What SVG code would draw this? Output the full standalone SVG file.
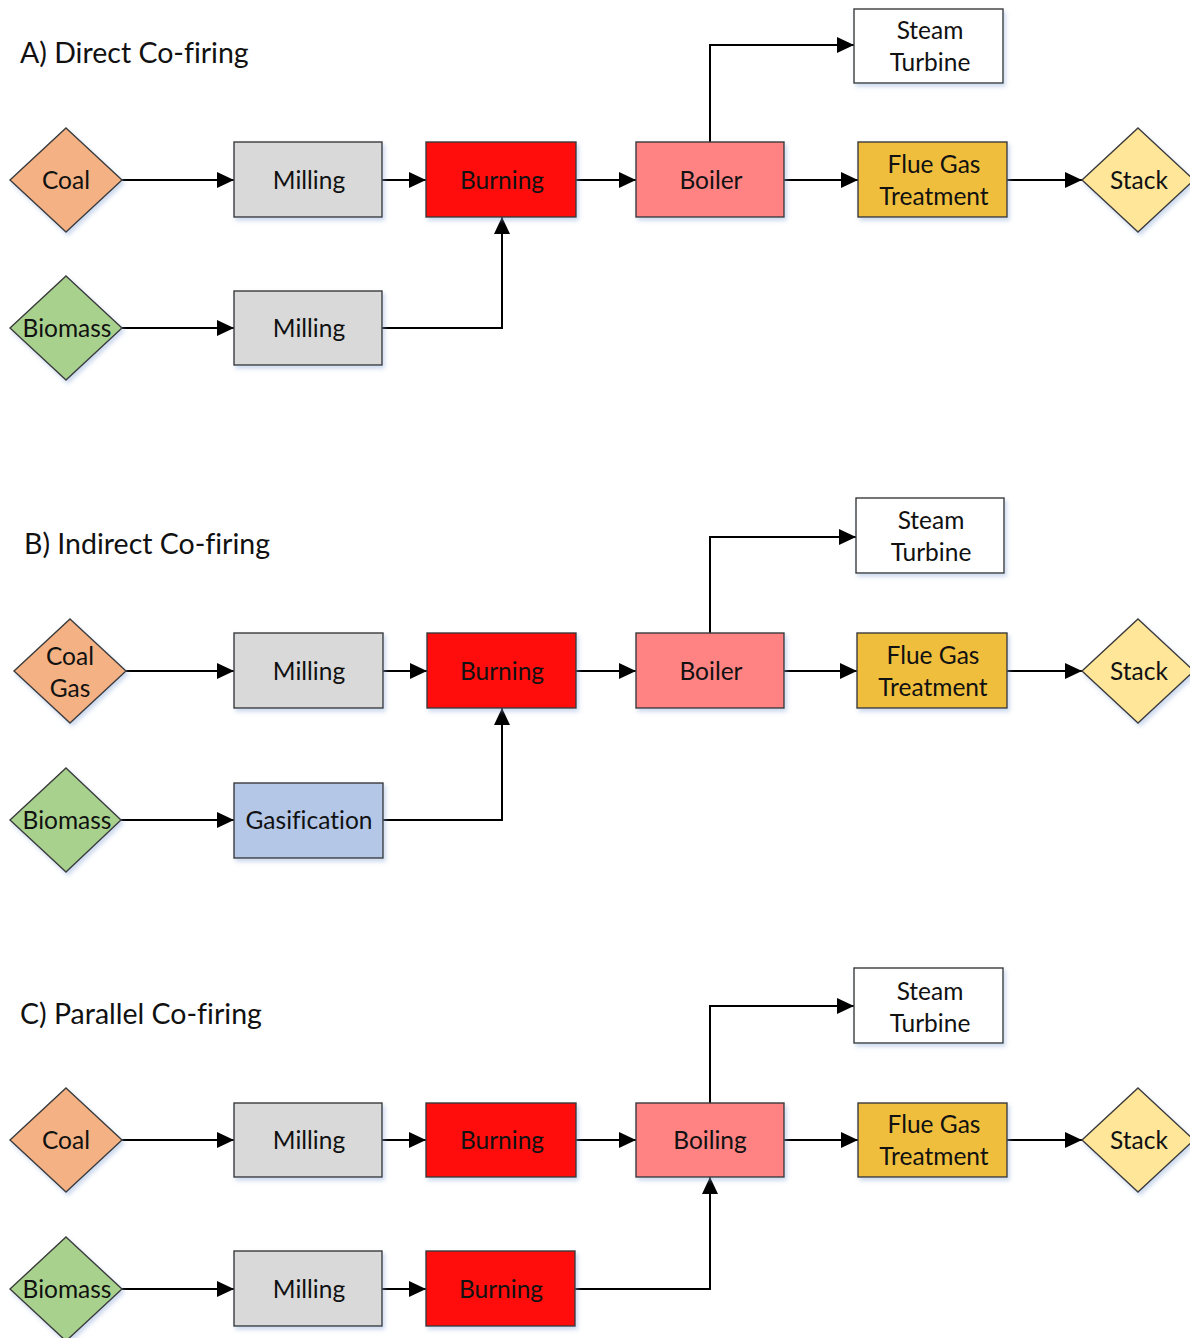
<svg xmlns="http://www.w3.org/2000/svg" width="1190" height="1338" viewBox="0 0 1190 1338">
<defs>
<style>
.box{stroke:#3a3a3a;stroke-width:1.4;filter:url(#sh)}
.t{font-family:Lato,"Liberation Sans",sans-serif;font-size:24.5px;fill:#111;text-anchor:middle;font-variant-ligatures:none}
.title{font-family:Lato,"Liberation Sans",sans-serif;font-size:28.5px;fill:#111;font-variant-ligatures:none}
.c{fill:none;stroke:#000;stroke-width:2;marker-end:url(#ah)}
.coal{fill:#F4B183}.bio{fill:#A9D18E}.mill{fill:#D9D9D9}.burn{fill:#FF0D0D}.boil{fill:#FF8383}
.fgt{fill:#F0BE3E}.stack{fill:#FFE699}.gas{fill:#B4C7E7}.st{fill:#FFFFFF}
</style>
<filter id="sh" x="-20%" y="-20%" width="140%" height="150%">
<feDropShadow dx="2" dy="3" stdDeviation="2" flood-color="#8EA9D8" flood-opacity="0.45"/>
</filter>
<marker id="ah" markerUnits="userSpaceOnUse" markerWidth="17" markerHeight="16" refX="17" refY="8" orient="auto">
<path d="M0,0 L17,8 L0,16 z" fill="#000"/>
</marker>
</defs>
<rect width="1190" height="1338" fill="#fff"/>

<text class="title" x="20" y="63">A) Direct Co-firing</text>
<text class="title" x="24" y="554">B) Indirect Co-firing</text>
<text class="title" x="20" y="1024">C) Parallel Co-firing</text>

<g id="connectors">
<!-- A -->
<path class="c" d="M122,180 H234"/>
<path class="c" d="M382,180 H426"/>
<path class="c" d="M576,180 H636"/>
<path class="c" d="M784,180 H858"/>
<path class="c" d="M1007,180 H1082"/>
<path class="c" d="M710,142 V45 H854"/>
<path class="c" d="M122,328 H234"/>
<path class="c" d="M382,328 H502 V217"/>
<!-- B -->
<path class="c" d="M126,671 H234"/>
<path class="c" d="M383,671 H427"/>
<path class="c" d="M576,671 H636"/>
<path class="c" d="M784,671 H857"/>
<path class="c" d="M1007,671 H1082"/>
<path class="c" d="M710,633 V537 H856"/>
<path class="c" d="M121,820 H234"/>
<path class="c" d="M383,820 H502 V708"/>
<!-- C -->
<path class="c" d="M122,1140 H234"/>
<path class="c" d="M382,1140 H426"/>
<path class="c" d="M576,1140 H636"/>
<path class="c" d="M784,1140 H858"/>
<path class="c" d="M1007,1140 H1082"/>
<path class="c" d="M710,1103 V1006 H854"/>
<path class="c" d="M122,1289 H234"/>
<path class="c" d="M382,1289 H426"/>
<path class="c" d="M575,1289 H710 V1177"/>
</g>

<!-- Section A -->
<g id="a-coal"><polygon class="box coal" points="66,128 122,180 66,232 10,180"/><text class="t" x="66" y="189">Coal</text></g>
<g id="a-milling1"><rect class="box mill" x="234" y="142" width="148" height="75"/><text class="t" x="309" y="189">Milling</text></g>
<g id="a-burning"><rect class="box burn" x="426" y="142" width="150" height="75"/><text class="t" x="502" y="189">Burning</text></g>
<g id="a-boiler"><rect class="box boil" x="636" y="142" width="148" height="75"/><text class="t" x="711" y="189">Boiler</text></g>
<g id="a-fgt"><rect class="box fgt" x="858" y="142" width="149" height="75"/><text class="t" x="934" y="173">Flue Gas</text><text class="t" x="934" y="205">Treatment</text></g>
<g id="a-stack"><polygon class="box stack" points="1138,128 1194,180 1138,232 1082,180"/><text class="t" x="1139" y="189">Stack</text></g>
<g id="a-steam"><rect class="box st" x="854" y="9" width="149" height="74"/><text class="t" x="930" y="39">Steam</text><text class="t" x="930" y="71">Turbine</text></g>
<g id="a-biomass"><polygon class="box bio" points="66,276 122,328 66,380 10,328"/><text class="t" x="67" y="337">Biomass</text></g>
<g id="a-milling2"><rect class="box mill" x="234" y="291" width="148" height="74"/><text class="t" x="309" y="337">Milling</text></g>

<!-- Section B -->
<g id="b-coalgas"><polygon class="box coal" points="70,619 126,671 70,723 14,671"/><text class="t" x="70" y="665">Coal</text><text class="t" x="70" y="697">Gas</text></g>
<g id="b-milling"><rect class="box mill" x="234" y="633" width="149" height="75"/><text class="t" x="309" y="680">Milling</text></g>
<g id="b-burning"><rect class="box burn" x="427" y="633" width="149" height="75"/><text class="t" x="502" y="680">Burning</text></g>
<g id="b-boiler"><rect class="box boil" x="636" y="633" width="148" height="75"/><text class="t" x="711" y="680">Boiler</text></g>
<g id="b-fgt"><rect class="box fgt" x="857" y="633" width="150" height="75"/><text class="t" x="933" y="664">Flue Gas</text><text class="t" x="933" y="696">Treatment</text></g>
<g id="b-stack"><polygon class="box stack" points="1138,619 1194,671 1138,723 1082,671"/><text class="t" x="1139" y="680">Stack</text></g>
<g id="b-steam"><rect class="box st" x="856" y="498" width="148" height="75"/><text class="t" x="931" y="529">Steam</text><text class="t" x="931" y="561">Turbine</text></g>
<g id="b-biomass"><polygon class="box bio" points="66,768 121,820 66,872 10,820"/><text class="t" x="67" y="829">Biomass</text></g>
<g id="b-gasification"><rect class="box gas" x="234" y="783" width="149" height="75"/><text class="t" x="309" y="829">Gasification</text></g>

<!-- Section C -->
<g id="c-coal"><polygon class="box coal" points="66,1088 122,1140 66,1192 10,1140"/><text class="t" x="66" y="1149">Coal</text></g>
<g id="c-milling1"><rect class="box mill" x="234" y="1103" width="148" height="74"/><text class="t" x="309" y="1149">Milling</text></g>
<g id="c-burning1"><rect class="box burn" x="426" y="1103" width="150" height="74"/><text class="t" x="502" y="1149">Burning</text></g>
<g id="c-boiling"><rect class="box boil" x="636" y="1103" width="148" height="74"/><text class="t" x="710" y="1149">Boiling</text></g>
<g id="c-fgt"><rect class="box fgt" x="858" y="1103" width="149" height="74"/><text class="t" x="934" y="1133">Flue Gas</text><text class="t" x="934" y="1165">Treatment</text></g>
<g id="c-stack"><polygon class="box stack" points="1138,1088 1194,1140 1138,1192 1082,1140"/><text class="t" x="1139" y="1149">Stack</text></g>
<g id="c-steam"><rect class="box st" x="854" y="968" width="149" height="75"/><text class="t" x="930" y="1000">Steam</text><text class="t" x="930" y="1032">Turbine</text></g>
<g id="c-biomass"><polygon class="box bio" points="66,1237 122,1289 66,1341 10,1289"/><text class="t" x="67" y="1298">Biomass</text></g>
<g id="c-milling2"><rect class="box mill" x="234" y="1251" width="148" height="75"/><text class="t" x="309" y="1298">Milling</text></g>
<g id="c-burning2"><rect class="box burn" x="426" y="1251" width="149" height="75"/><text class="t" x="501" y="1298">Burning</text></g>
</svg>
